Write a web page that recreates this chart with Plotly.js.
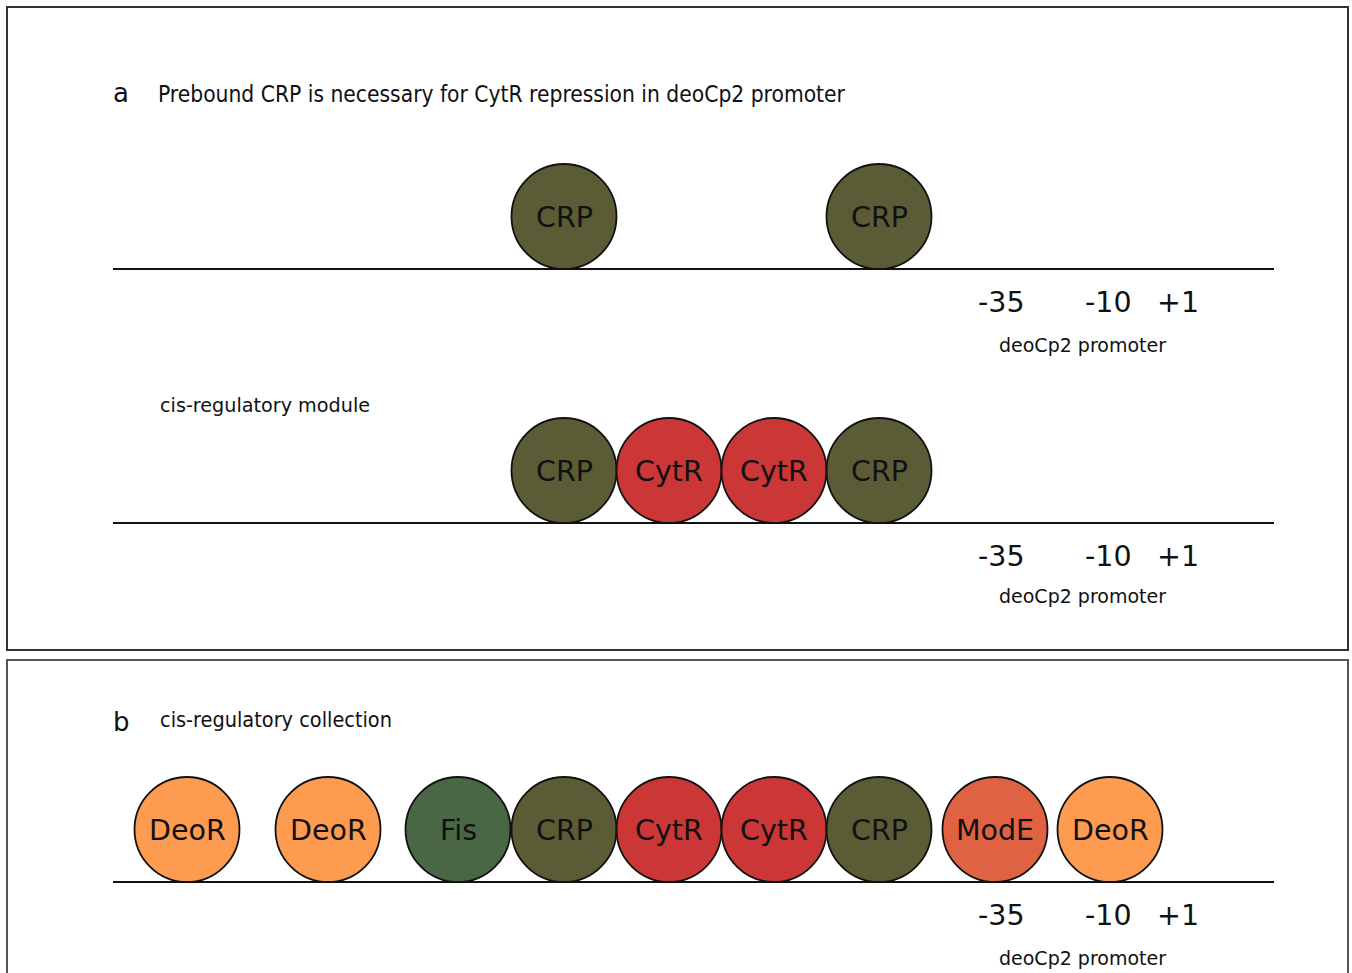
<!DOCTYPE html>
<html>
<head>
<meta charset="utf-8">
<script src="https://cdn.plot.ly/plotly-3.0.1.min.js"></script>
<style>html,body{margin:0;padding:0;background:#fff;}#chart{width:1352px;height:973px;}</style>
</head>
<body>
<div id="chart"></div>
<script>
// Data
const rowANames = ['CRP', 'CRP'];
const rowAPos = [564, 879];
const rowBNames = ['CRP', 'CytR', 'CytR', 'CRP'];
const rowBPos = [564, 669, 774, 879];
const rowCNames = ['DeoR', 'DeoR', 'Fis', 'CRP', 'CytR', 'CytR', 'CRP', 'ModE', 'DeoR'];
const rowCPos = [187, 328, 458, 564, 669, 774, 879, 995, 1110];
const promoterLabels = ['-35', '-10', '+1'];
const promoterPos = [1001, 1108, 1178];
const rowBaselines = [269, 523, 882];

const colors = {CRP: '#5b5c36', CytR: '#cb3636', Fis: '#4a6745', ModE: '#df6343', DeoR: '#fd9b51'};
const R = 52.5;
const font = 'DejaVu Sans, Verdana, sans-serif';
const condFont = 'DejaVu Sans Condensed, DejaVu Sans, sans-serif';

const rows = [[rowANames, rowAPos], [rowBNames, rowBPos], [rowCNames, rowCPos]];
const traces = rows.map(([names, pos], i) => ({
  type: 'scatter', mode: 'markers',
  x: pos, y: pos.map(() => rowBaselines[i] - R),
  text: names,
  marker: {size: 2 * R, color: names.map(n => colors[n]), line: {color: '#111', width: 1.8}, opacity: 1},
  hoverinfo: 'text', cliponaxis: false, showlegend: false
}));

const shapes = [
  {type: 'rect', x0: 7, x1: 1348, y0: 7, y1: 650, line: {color: '#333', width: 2}},
  {type: 'rect', x0: 7, x1: 1348, y0: 660, y1: 990, line: {color: '#555', width: 2}},
  ...rowBaselines.map(y => ({type: 'line', x0: 113, x1: 1274, y0: y, y1: y, line: {color: '#111', width: 2}, layer: 'below'}))
];

const annotations = [];
function txt(text, x, y, size, fam, anchor) {
  annotations.push({text, x, y, xref: 'x', yref: 'y', showarrow: false, xanchor: anchor || 'left', yanchor: 'middle', font: {family: fam, size, color: '#111'}});
}
rows.forEach(([names, pos], i) => {
  names.forEach((n, j) => txt(n, pos[j], rowBaselines[i] - R + 1, 28.5, font, 'center'));
});
txt('a', 111, 93, 26, font);
txt('Prebound CRP is necessary for CytR repression in deoCp2 promoter', 156, 94, 22.6, condFont);
txt('cis-regulatory module', 158, 405, 19.2, font);
txt('b', 111, 722, 26, font);
txt('cis-regulatory collection', 158, 719, 21.5, condFont);
rowBaselines.forEach((b, i) => {
  promoterLabels.forEach((l, j) => txt(l, promoterPos[j], b + 33, 28.5, font, 'center'));
  txt('deoCp2 promoter', 1082, b + (i === 1 ? 73 : 76), 19, font, 'center');
});

const layout = {
  width: 1352, height: 973, margin: {l: 0, r: 0, t: 0, b: 0},
  paper_bgcolor: '#fff', plot_bgcolor: '#fff',
  xaxis: {range: [0, 1352], visible: false, fixedrange: true},
  yaxis: {range: [973, 0], visible: false, fixedrange: true},
  shapes, annotations, showlegend: false
};
Plotly.newPlot('chart', traces, layout, {displayModeBar: false, staticPlot: true});
</script>
</body>
</html>
